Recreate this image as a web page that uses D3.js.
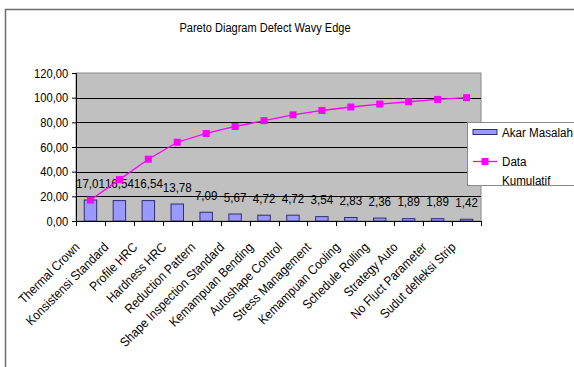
<!DOCTYPE html>
<html>
<head>
<meta charset="utf-8">
<script src="https://cdn.jsdelivr.net/npm/d3@7"></script>
<style>
  body { margin: 0; background: #fff; }
  svg { display: block; font-family: "Liberation Sans", Arial, sans-serif; }
</style>
</head>
<body>
<svg id="chart" width="574" height="367"></svg>
<script>
// data
const categories = [
    "Thermal Crown", "Konsistensi Standard", "Profile HRC", "Hardness HRC",
    "Reduction Pattern", "Shape Inspection Standard", "Kemampuan Bending",
    "Autoshape Control", "Stress Management", "Kemampuan Cooling",
    "Schedule Rolling", "Strategy Auto", "No Fluct Parameter", "Sudut defleksi Strip"
];
const akarMasalah = [17.01, 16.54, 16.54, 13.78, 7.09, 5.67, 4.72, 4.72, 3.54, 2.83, 2.36, 1.89, 1.89, 1.42];
const dataKumulatif = [17.01, 33.55, 50.09, 63.87, 70.96, 76.63, 81.35, 86.07, 89.61, 92.44, 94.80, 96.69, 98.58, 100.00];
const yTicks = [0, 20, 40, 60, 80, 100, 120];

const TS = (x, y) => `translate(${[x, y]})`;
const SQ = 0.86; // text in the picture looks squeezed sideways
const fmt = d => d3.format(".2f")(d).replace(".", ",");

const plot = { left: 76, right: 481, top: 73, bottom: 221 };

const svg = d3.select("#chart");

// outer frame
svg.append("rect")
    .attr("x", 5.5).attr("y", 9.5)
    .attr("width", 620).attr("height", 420)
    .attr("fill", "#fff")
    .attr("stroke", "#6e6e6e")
    .attr("stroke-width", 1.5);

// title
svg.append("text")
    .attr("transform", TS(265, 32) + ` scale(${SQ * 0.95},1)`)
    .attr("text-anchor", "middle")
    .attr("font-size", 13.5)
    .text("Pareto Diagram Defect Wavy Edge");

const x = d3.scaleBand()
    .domain(categories)
    .range([plot.left, plot.right])
    .paddingInner(0.57)
    .paddingOuter(0.285);

const y = d3.scaleLinear()
    .domain([0, 120])
    .range([plot.bottom, plot.top]);

// plot area
svg.append("rect")
    .attr("x", plot.left).attr("y", plot.top)
    .attr("width", plot.right - plot.left)
    .attr("height", plot.bottom - plot.top)
    .attr("fill", "#c0c0c0")
    .attr("stroke", "#8a8a8a")
    .attr("stroke-width", 1);

// gridlines
svg.append("g")
    .selectAll("line")
    .data(yTicks.slice(1, -1))
    .join("line")
    .attr("x1", plot.left).attr("x2", plot.right)
    .attr("y1", d => Math.round(y(d)) + 0.5)
    .attr("y2", d => Math.round(y(d)) + 0.5)
    .attr("stroke", "#000")
    .attr("stroke-width", 1);

// y axis
const yAxis = svg.append("g")
    .attr("transform", TS(plot.left, 0))
    .call(d3.axisLeft(y).tickValues(yTicks).tickFormat(fmt).tickSize(4).tickPadding(5));
yAxis.select(".domain").attr("stroke", "#000");
yAxis.selectAll("text")
    .attr("font-size", 13)
    .attr("font-family", "Liberation Sans, Arial, sans-serif")
    .attr("fill", "#000")
    .attr("transform", `scale(${SQ},1)`);

// bars
svg.append("g")
    .selectAll("rect")
    .data(akarMasalah)
    .join("rect")
    .attr("x", (d, i) => x(categories[i]))
    .attr("y", d => y(d))
    .attr("width", x.bandwidth())
    .attr("height", d => y(0) - y(d))
    .attr("fill", "#9999ff")
    .attr("stroke", "#2e2e6e")
    .attr("stroke-width", 1);

// x axis line and tick marks at category boundaries
const step = x.step();
const xAxis = svg.append("g");
xAxis.append("line")
    .attr("x1", plot.left).attr("x2", plot.right)
    .attr("y1", plot.bottom + 0.5).attr("y2", plot.bottom + 0.5)
    .attr("stroke", "#000");
xAxis.selectAll(".tick")
    .data(categories.concat(["end"]))
    .join("line")
    .attr("class", "tick")
    .attr("x1", (d, i) => Math.round(plot.left + i * step) + 0.5)
    .attr("x2", (d, i) => Math.round(plot.left + i * step) + 0.5)
    .attr("y1", plot.bottom)
    .attr("y2", plot.bottom + 5)
    .attr("stroke", "#000");

// rotated category labels
xAxis.selectAll(".lbl")
    .data(categories)
    .join("text")
    .attr("class", "lbl")
    .attr("transform", d => TS(x(d) + x.bandwidth() / 2 - 10, 248) + " rotate(-45)" + ` scale(${SQ + 0.04},1)`)
    .attr("text-anchor", "end")
    .attr("font-size", 13)
    .text(d => d);

// data labels
svg.append("g")
    .selectAll("text")
    .data(akarMasalah)
    .join("text")
    .attr("transform", (d, i) => TS(x(categories[i]) + x.bandwidth() / 2, y(d) - 12.5) + ` scale(${SQ},1)`)
    .attr("text-anchor", "middle")
    .attr("font-size", 13.5)
    .text(fmt);

// cumulative line
const line = d3.line()
    .x((d, i) => x(categories[i]) + x.bandwidth() / 2)
    .y(d => y(d));

svg.append("path")
    .datum(dataKumulatif)
    .attr("d", line)
    .attr("fill", "none")
    .attr("stroke", "#ff00ff")
    .attr("stroke-width", 1.3);

svg.append("g")
    .selectAll("rect")
    .data(dataKumulatif)
    .join("rect")
    .attr("x", (d, i) => x(categories[i]) + x.bandwidth() / 2 - 3.5)
    .attr("y", d => y(d) - 3.5)
    .attr("width", 7).attr("height", 7)
    .attr("fill", "#ff00ff");

// legend
const legend = svg.append("g").attr("transform", TS(467, 122));
legend.append("rect")
    .attr("x", 0.5).attr("y", 0.5)
    .attr("width", 130).attr("height", 63)
    .attr("fill", "#fff")
    .attr("stroke", "#8a8a8a");
legend.append("rect")
    .attr("x", 6).attr("y", 7.5)
    .attr("width", 24).attr("height", 5)
    .attr("fill", "#9999ff")
    .attr("stroke", "#2e2e6e");
legend.append("text")
    .attr("transform", TS(35, 15) + ` scale(${SQ},1)`)
    .attr("font-size", 13.5)
    .text("Akar Masalah");
legend.append("line")
    .attr("x1", 6).attr("x2", 30)
    .attr("y1", 39.5).attr("y2", 39.5)
    .attr("stroke", "#ff00ff")
    .attr("stroke-width", 1.3);
legend.append("rect")
    .attr("x", 14.5).attr("y", 36)
    .attr("width", 7).attr("height", 7)
    .attr("fill", "#ff00ff");
legend.append("text")
    .attr("transform", TS(35, 44) + ` scale(${SQ},1)`)
    .attr("font-size", 13.5)
    .text("Data");
legend.append("text")
    .attr("transform", TS(35, 63) + ` scale(${SQ},1)`)
    .attr("font-size", 13.5)
    .text("Kumulatif");
</script>
</body>
</html>
